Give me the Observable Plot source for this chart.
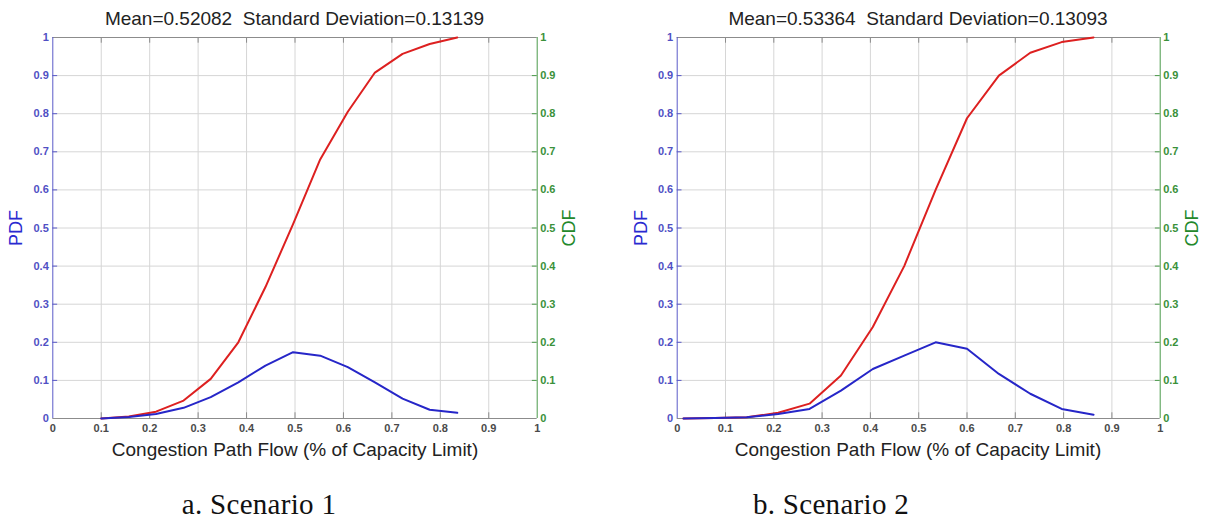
<!DOCTYPE html>
<html>
<head>
<meta charset="utf-8">
<script src="https://cdn.jsdelivr.net/npm/d3@7"></script>
<script src="https://cdn.jsdelivr.net/npm/@observablehq/plot@0.6"></script>
<style>
  html, body { margin: 0; padding: 0; background: #fff; }
  body { width: 1208px; height: 525px; position: relative; overflow: hidden;
         font-family: "Liberation Sans", Arial, sans-serif; }
  .abs { position: absolute; white-space: nowrap; transform: translate(-50%, -50%); line-height: 1; }
  .title, .xlab { font-size: 19px; color: #222; }
  .ylab { font-size: 18px; }
  .cap { font-family: "Liberation Serif", "Times New Roman", serif; font-size: 29px; color: #111; letter-spacing: 0.3px; }
  .panel { position: absolute; top: 0; }
</style>
</head>
<body>
<script>
// ---- Data ----
const s1Flow = [0.100, 0.157, 0.213, 0.270, 0.326, 0.383, 0.439, 0.496, 0.552, 0.609, 0.665, 0.722, 0.778, 0.835];
const s1Pdf  = [0.000, 0.004, 0.012, 0.028, 0.056, 0.095, 0.139, 0.174, 0.165, 0.135, 0.095, 0.052, 0.023, 0.015];
const s1Cdf  = [0.000, 0.005, 0.018, 0.047, 0.104, 0.200, 0.345, 0.510, 0.680, 0.805, 0.908, 0.957, 0.983, 1.000];

const s2Flow = [0.013, 0.078, 0.144, 0.209, 0.274, 0.339, 0.405, 0.470, 0.535, 0.600, 0.666, 0.731, 0.796, 0.862];
const s2Pdf  = [0.000, 0.001, 0.003, 0.012, 0.025, 0.073, 0.130, 0.165, 0.200, 0.183, 0.117, 0.065, 0.025, 0.010];
const s2Cdf  = [0.000, 0.001, 0.003, 0.015, 0.039, 0.113, 0.240, 0.400, 0.600, 0.788, 0.900, 0.960, 0.988, 1.000];

const tickValues = [0, 0.1, 0.2, 0.3, 0.4, 0.5, 0.6, 0.7, 0.8, 0.9, 1];
const tickLabels = ["0", "0.1", "0.2", "0.3", "0.4", "0.5", "0.6", "0.7", "0.8", "0.9", "1"];

const titles = ["Mean=0.52082\u00a0\u00a0Standard Deviation=0.13139", "Mean=0.53364\u00a0\u00a0Standard Deviation=0.13093"];
const xLabel = "Congestion Path Flow (% of Capacity Limit)";
const captions = ["a. Scenario 1", "b. Scenario 2"];

// ---- Styling ----
const C = {
  grid: "#d6d6d6", box: "#8c8c8c", leftAxis: "#5a5ac8", rightAxis: "#4a9a4a",
  leftTick: "#5050c4", rightTick: "#3a913a", xTick: "#4a4a4a",
  cdf: "#dd2020", pdf: "#2626c8", pdfLab: "#2a2ad0", cdfLab: "#23882b"
};
const fmt = d => tickLabels[tickValues.indexOf(d)];

function panel(flow, pdf, cdf, ml, mr) {
  const rows = flow.map((f, i) => ({ flow: f, pdf: pdf[i], cdf: cdf[i] }));
  const inner = tickValues.slice(1, -1);
  return Plot.plot({
    width: 604, height: 440,
    marginLeft: ml, marginRight: mr, marginTop: 37, marginBottom: 22,
    x: { domain: [0, 1] },
    y: { domain: [0, 1] },
    style: { fontFamily: "Liberation Sans, Arial, sans-serif", background: "transparent", overflow: "visible" },
    marks: [
      Plot.gridX(inner, { stroke: C.grid, strokeOpacity: 1 }),
      Plot.gridY(inner, { stroke: C.grid, strokeOpacity: 1 }),
      // inward tick marks (MATLAB style)
      Plot.ruleX(inner, { y1: 1, y2: 0.985, stroke: C.box }),
      Plot.ruleX(inner, { y1: 0, y2: 0.015, stroke: C.box }),
      Plot.ruleY(inner, { x1: 0, x2: 0.01, stroke: C.leftAxis }),
      Plot.ruleY(inner, { x1: 1, x2: 0.99, stroke: C.rightAxis }),
      Plot.ruleY([0, 1], { stroke: C.box }),
      Plot.ruleX([0], { stroke: C.leftAxis }),
      Plot.ruleX([1], { stroke: C.rightAxis }),
      Plot.axisX(tickValues, { tickSize: 0, tickPadding: 6, tickFormat: fmt, fontSize: 11, fontWeight: "bold", fill: C.xTick, label: null }),
      Plot.axisY(tickValues, { anchor: "left", tickSize: 0, tickPadding: 4, tickFormat: fmt, fontSize: 11, fontWeight: "bold", fill: C.leftTick, label: null }),
      Plot.axisY(tickValues, { anchor: "right", tickSize: 0, tickPadding: 3, tickFormat: fmt, fontSize: 11, fontWeight: "bold", fill: C.rightTick, label: null }),
      Plot.line(rows, { x: "flow", y: "cdf", stroke: C.cdf, strokeWidth: 2 }),
      Plot.line(rows, { x: "flow", y: "pdf", stroke: C.pdf, strokeWidth: 2 })
    ]
  });
}

function addText(txt, cls, x, y, extra) {
  const d = document.createElement("div");
  d.className = "abs " + cls;
  d.textContent = txt;
  d.style.left = x + "px";
  d.style.top = y + "px";
  if (extra) Object.assign(d.style, extra);
  document.body.appendChild(d);
  return d;
}

const p1 = panel(s1Flow, s1Pdf, s1Cdf, 52.3, 67.3);
p1.classList.add("panel"); p1.style.left = "0px";
document.body.appendChild(p1);

const p2 = panel(s2Flow, s2Pdf, s2Cdf, 72.7, 48.3);
p2.classList.add("panel"); p2.style.left = "604px";
document.body.appendChild(p2);

// Titles, axis labels, captions
const rot = { transform: "translate(-50%,-50%) rotate(-90deg)" };
addText(titles[0], "title", 294.5, 18);
addText(titles[1], "title", 918, 18);
addText(xLabel, "xlab", 295, 449);
addText(xLabel, "xlab", 918, 449);
addText("PDF", "ylab", 16, 228, { color: C.pdfLab, ...rot });
addText("CDF", "ylab", 569, 228, { color: C.cdfLab, ...rot });
addText("PDF", "ylab", 641, 228, { color: C.pdfLab, ...rot });
addText("CDF", "ylab", 1192, 228, { color: C.cdfLab, ...rot });
addText(captions[0], "cap", 259, 504);
addText(captions[1], "cap", 831, 504);
</script>
</body>
</html>
